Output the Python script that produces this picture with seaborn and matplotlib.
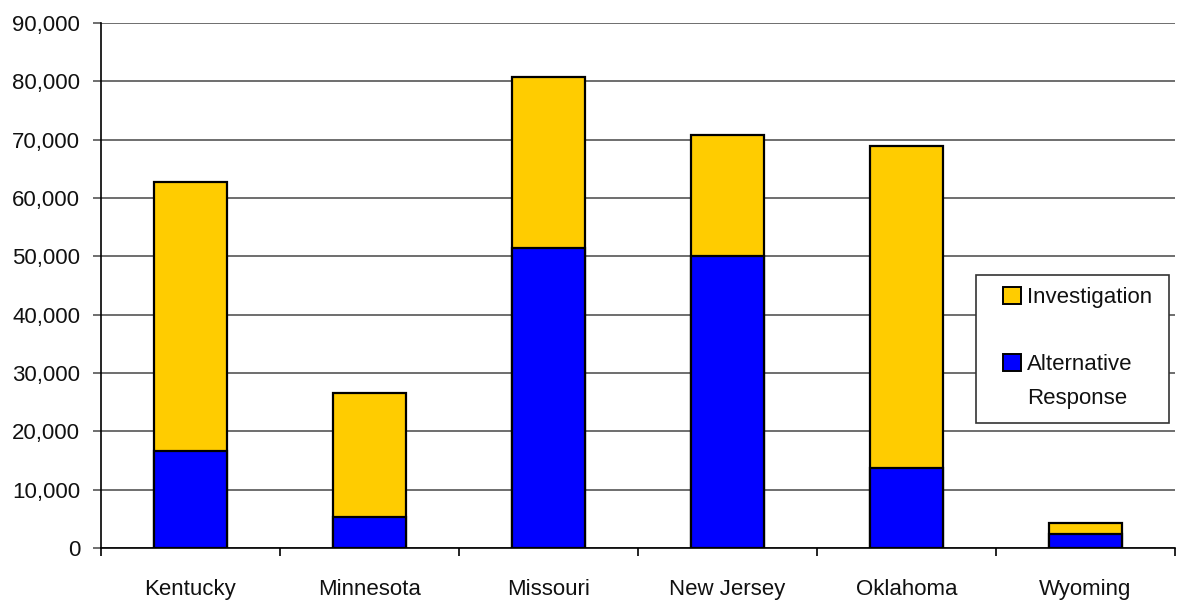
import matplotlib
matplotlib.use("Agg")
import matplotlib.pyplot as plt
import seaborn as sns
import pandas as pd
from matplotlib.patches import Patch, Rectangle
from matplotlib.ticker import FuncFormatter, FixedLocator

states = ["Kentucky", "Minnesota", "Missouri", "New Jersey", "Oklahoma", "Wyoming"]
alternative = [16600, 5300, 51500, 50000, 13700, 2400]
investigation = [46100, 21200, 29200, 20800, 55200, 1900]

sns.set_style("white")
plt.rcParams['font.family'] = ['Liberation Sans', 'DejaVu Sans']
fs = 16

df = pd.DataFrame({"State": states, "Alternative": alternative,
                   "Total": [a + b for a, b in zip(alternative, investigation)]})

W, H = 1179, 603
fig = plt.figure(figsize=(W / 100, H / 100), dpi=100)
ax = fig.add_axes([101/W, 1 - 548/H, (1175 - 101)/W, (548 - 23)/H])

sns.barplot(data=df, x="State", y="Total", color="#FFCC00", edgecolor="black",
            linewidth=1.6, width=0.41, saturation=1, ax=ax, zorder=3)
sns.barplot(data=df, x="State", y="Alternative", color="#0000FF", edgecolor="black",
            linewidth=1.6, width=0.41, saturation=1, ax=ax, zorder=4)

ax.set_xlim(-0.5, 5.5)
ax.set_ylim(0, 90000)
ax.set_yticks(range(0, 90001, 10000))
ax.yaxis.set_major_formatter(FuncFormatter(lambda v, p: f"{int(v):,}"))
ax.grid(axis="y", color="#555555", linewidth=1.2, zorder=0)
ax.set_axisbelow(True)

ax.xaxis.set_major_locator(FixedLocator([i - 0.5 for i in range(7)]))
ax.xaxis.set_minor_locator(FixedLocator(list(range(6))))
ax.set_xticklabels([""] * 7)
ax.set_xticklabels(states, minor=True)
ax.tick_params(axis="x", which="major", length=6, width=1.2, color="black", direction="out", bottom=True)
ax.tick_params(axis="x", which="minor", length=0, labelsize=fs, pad=22, colors="#111111")
ax.tick_params(axis="y", length=6, width=1.2, color="#555555", direction="out", left=True,
               labelsize=fs, pad=9, labelcolor="#111111")
ax.set_xlabel("")
ax.set_ylabel("")

for s in ["top", "right"]:
    ax.spines[s].set_visible(False)
ax.spines["left"].set_color("black")
ax.spines["left"].set_linewidth(1.2)
ax.spines["bottom"].set_color("black")
ax.spines["bottom"].set_linewidth(1.2)

# legend frame
fig.patches.append(Rectangle((976/W, 1 - 423/H), (1169 - 976)/W, (423 - 275)/H,
                             transform=fig.transFigure, facecolor="white",
                             edgecolor="#333333", linewidth=1.2, zorder=5))

handles = [Patch(facecolor="#FFCC00", edgecolor="black", linewidth=1.4, label="Investigation"),
           Patch(facecolor="none", edgecolor="none", label=" "),
           Patch(facecolor="#0000FF", edgecolor="black", linewidth=1.4, label="Alternative"),
           Patch(facecolor="none", edgecolor="none", label="Response")]
leg = fig.legend(handles=handles, loc="upper left", bbox_to_anchor=(1003/W, 1 - 287/H),
                 frameon=False, fontsize=fs,
                 handlelength=0.8, handleheight=0.8, handletextpad=0.3, labelspacing=0.55,
                 borderpad=0, borderaxespad=0)
leg.set_zorder(6)
for t in leg.get_texts():
    t.set_color("#111111")

fig.savefig("out.png", dpi=100)
